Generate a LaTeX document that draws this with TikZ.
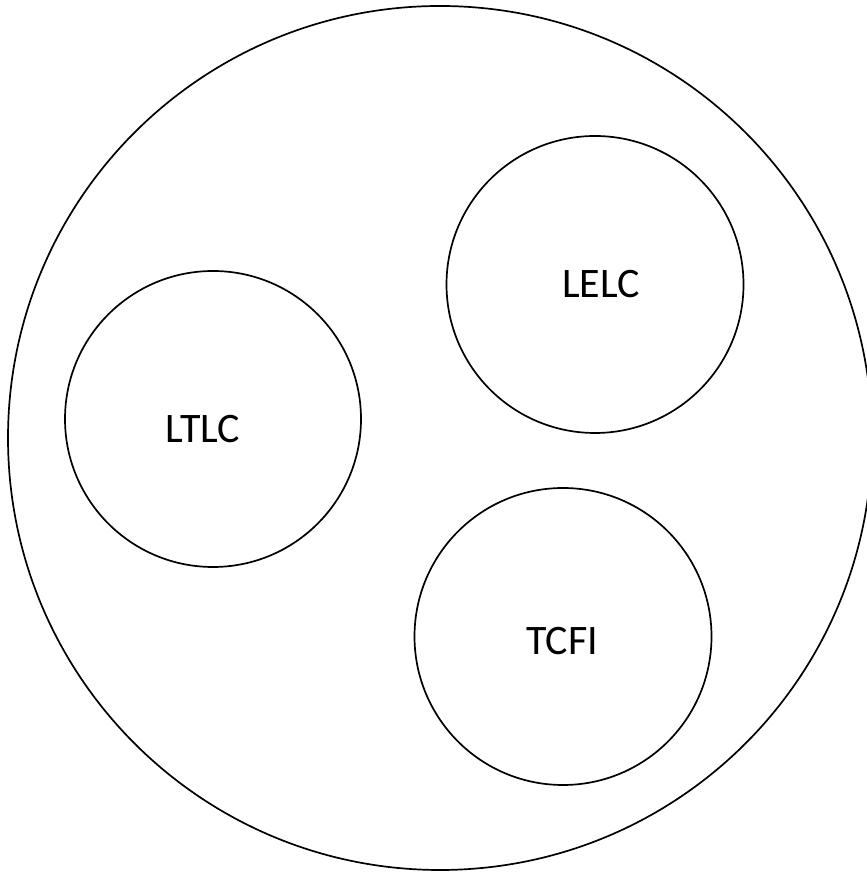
\documentclass[tikz,border=0pt]{standalone}
\usepackage{fontspec}
\setmainfont{Carlito}
\begin{document}
\begin{tikzpicture}[x=1pt,y=1pt,
  ring/.style={draw=black,circle,line width=1.7pt,inner sep=0pt},
  lbl/.style={font=\fontsize{42}{50}\selectfont,inner sep=0pt}]
\useasboundingbox (0,0) rectangle (866,874);
\node[ring,minimum size=864pt] (outer) at (440,436) {};
\node[ring,minimum size=297pt] (lelc) at (595,589.5) {};
\node[ring,minimum size=296pt] (ltlc) at (213,455) {};
\node[ring,minimum size=297pt] (tcfi) at (563,237.5) {};
\node[lbl] (tlelc) at ([xshift=6pt,yshift=0pt]lelc.center) {LELC};
\node[lbl] (tltlc) at ([xshift=-10pt,yshift=-10pt]ltlc.center) {LTLC};
\node[lbl] (ttcfi) at ([xshift=-1pt,yshift=-4.5pt]tcfi.center) {TCFI};
\end{tikzpicture}
\end{document}
